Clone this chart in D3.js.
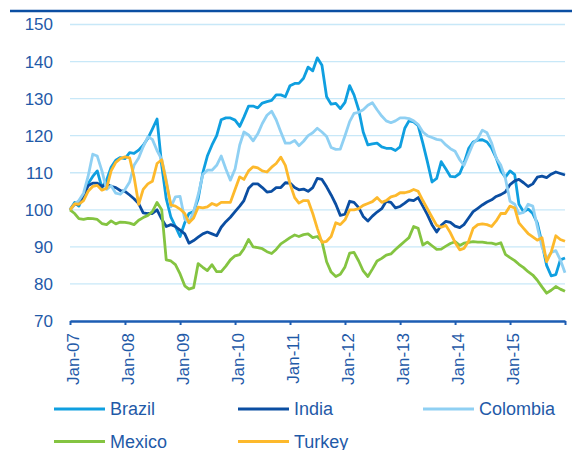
<!DOCTYPE html>
<html>
<head>
<meta charset="utf-8">
<script src="https://cdn.jsdelivr.net/npm/d3@7"></script>
<style>
  body { margin: 0; background: #fff; }
  svg { display: block; font-family: 'Liberation Sans', Arial, sans-serif; }
</style>
</head>
<body>
<svg id="chart"></svg>
<script>
// monthly index, Jan-07 = 100 (one row per year)
const firstMonth = new Date(2007, 0, 1);

const brazil = [
  100, 102, 101, 104, 107, 109, 110.5, 106, 108, 111.5, 113.4, 114.1,
  113.8, 115.4, 115.2, 116.1, 117.4, 119.3, 121.8, 124.5, 112, 103, 98, 95.5,
  92.8, 96.5, 99, 99.5, 103, 110, 114.5, 117.5, 120, 124.3, 124.8, 124.8,
  124.2, 122.5, 125, 128, 128, 127.5, 128.8, 129.2, 129.5, 131, 131, 130.5,
  133.5, 134.1, 134.1, 135.5, 138.5, 137.5, 141, 139, 130.5, 128.5, 128.7, 127.3,
  129, 133.5, 131, 127, 121, 117.5, 117.8, 118, 117, 116.6, 116.6, 116,
  117, 122, 124, 123.7, 122.7, 118, 113, 107.5, 108.5, 113, 111, 109,
  108.9, 109.8, 112.5, 116.5, 118.3, 118.8, 118.9, 118.3, 116.6, 114, 110.5, 108.8,
  110.5, 109.5, 101.5, 99.5, 100.2, 99, 96.5, 91, 85, 82.2, 82.5, 86.5,
  87
];

const india = [
  100, 101.5, 101.5, 103.5, 106.5, 107.2, 107.2, 106.3, 107, 106.3, 106, 105.2,
  105, 104, 103, 101.7, 99.2, 99, 99, 100, 97.5, 95.5, 96, 95.5,
  94.5, 93.5, 91, 91.7, 92.6, 93.5, 94, 93.5, 93, 95.3, 96.8, 98,
  99.5, 101, 102.5, 105.8, 107, 107, 106, 104.8, 105, 106, 106, 107.3,
  107.2, 106, 105.4, 105.6, 105, 106, 108.5, 108.2, 106.2, 104, 101.5, 98.5,
  98.8, 102.3, 102, 100.6, 98.2, 97, 98.3, 99.4, 100.3, 102.3, 102, 100.5,
  100.9, 101.8, 102.7, 102.5, 103.3, 101, 98.7, 96, 94, 95.8, 96.9, 96.6,
  95.6, 95.2, 96, 97.8, 99.5, 100.4, 101.3, 102.1, 102.7, 103.6, 104.1, 104.8,
  106.8, 107.8, 108.2, 107.3, 106.3, 107, 108.8, 109.1, 108.7, 109.6, 110.2, 109.8,
  109.4
];

const colombia = [
  100, 101.5, 102.5, 104.5, 109, 115, 114.5, 110.5, 105.5, 106.5, 104.5, 104.2,
  105.5, 107.5, 112, 114, 117, 119.7, 119, 116, 113.6, 108, 100.8, 103.5,
  103.6, 97.5, 96.5, 99.5, 104, 109.5, 110.7, 110.7, 112, 114.5, 111, 108,
  111, 117.5, 121, 120.2, 118.6, 120.5, 123.3, 125.5, 126.6, 124.3, 121, 118,
  118, 118.7, 117.3, 118.5, 120, 120.8, 122, 121, 119.8, 116.8, 116.3, 116.4,
  120, 123.8, 126, 126.3, 127, 128.2, 128.9, 127, 125.3, 124, 123.5, 124,
  124.8, 124.8, 124.6, 124, 123, 121, 120, 119.5, 119, 118.8, 117.5, 116.5,
  115.8, 113.5, 112, 115, 117.9, 119.2, 121.5, 120.8, 118, 114, 112, 108.5,
  102.3, 101.5, 99, 99.3, 101.5, 101, 95.5, 90, 86.7, 88.5, 89, 86.5,
  83
];

const mexico = [
  100, 99, 97.6, 97.4, 97.7, 97.6, 97.4, 96.3, 96, 97, 96.2, 96.7,
  96.6, 96.4, 96, 97.2, 97.9, 98.5, 99.5, 102, 100, 86.5, 86.2, 85.2,
  82.7, 79.5, 78.6, 79, 85.5, 84.5, 83.6, 85.2, 83.3, 83.3, 84.8, 86.5,
  87.6, 87.9, 89.5, 92, 90, 89.8, 89.5, 88.7, 88.2, 89.3, 90.8, 91.6,
  92.5, 93.2, 92.8, 93.3, 93.5, 92.5, 92.8, 91.5, 86, 83.2, 82, 82.6,
  84.6, 88.3, 88.5, 86.2, 83.5, 82, 84, 86.2, 86.9, 87.8, 88.1, 89.3,
  90.4, 91.5, 92.5, 95.5, 95, 90.5, 91.3, 90.3, 89.3, 89.4, 90.2, 90.9,
  91.4, 90.4, 91, 91.2, 91.4, 91.3, 91.3, 91.1, 91, 90.7, 91.1, 88,
  87.1, 86.3, 85.3, 84.4, 83.3, 82.4, 81, 79.2, 77.5, 78.3, 79.3, 78.6,
  78
];

const turkey = [
  100, 101.6, 101.5, 102.5, 105, 106.3, 106.6, 105.3, 105.8, 110.5, 112.8, 113.8,
  114.3, 114, 109, 101.5, 105.5, 107, 107.7, 112.5, 113.5, 107.5, 101.3, 101,
  100.2, 99, 96.5, 97.8, 100.7, 100.5, 100.8, 101.7, 101.2, 102, 102, 102,
  105.5, 108.9, 108.2, 110.5, 111.6, 111.3, 110.5, 110.2, 111.5, 112.5, 114.2, 112,
  107, 103.3, 101.8, 102.5, 102.5, 99, 95, 91.2, 91.5, 92.8, 96.5, 96,
  97.3, 100, 100, 100.3, 101.2, 101.7, 102.2, 103.3, 102, 102.5, 103.5, 103.8,
  104.6, 104.6, 104.9, 105.5, 105, 102.5, 100.3, 98, 95.8, 95.3, 95.8, 93.8,
  91.2, 89.2, 89.6, 91.5, 95, 96, 96.2, 96, 95.5, 97, 99, 99,
  101, 100.5, 96.5, 95, 93.6, 92.7, 91.8, 92.5, 86, 88.5, 93, 92,
  91.5
];

const seriesNames = ['Brazil', 'India', 'Colombia', 'Mexico', 'Turkey'];
const seriesValues = [brazil, india, colombia, mexico, turkey];
const seriesColors = ['#0f9fe0', '#0b4ea2', '#8fd0f3', '#84c441', '#fdb92c'];

const yTicks = [70, 80, 90, 100, 110, 120, 130, 140, 150];
const tickYears = [2007, 2008, 2009, 2010, 2011, 2012, 2013, 2014, 2015, 2016];

const width = 572, height = 450;
const textColor = '#1f5aa8';
const axisColor = '#1d5db3';

const svg = d3.select('#chart')
  .attr('width', width)
  .attr('height', height);

const months = d3.timeMonth.range(firstMonth, d3.timeMonth.offset(firstMonth, brazil.length));

const x = d3.scaleTime()
  .domain([new Date(2007, 0, 1), new Date(2016, 0, 1)])
  .range([70, 565]);

const y = d3.scaleLinear()
  .domain([70, 150])
  .range([321, 24.5]);

// rule on top
svg.append('line')
  .attr('x1', 10).attr('x2', width)
  .attr('y1', 11).attr('y2', 11)
  .attr('stroke', '#0b4ea2')
  .attr('stroke-width', 2.5);

// gridlines
svg.append('g')
  .selectAll('line')
  .data(yTicks.filter(d => d > 70))
  .enter()
  .append('line')
  .attr('x1', x.range()[0])
  .attr('x2', x.range()[1])
  .attr('y1', d => y(d))
  .attr('y2', d => y(d))
  .attr('stroke', '#c8e8f8')
  .attr('stroke-width', 1.3);

// y labels
svg.append('g')
  .selectAll('text')
  .data(yTicks)
  .enter()
  .append('text')
  .attr('x', 53)
  .attr('y', d => y(d))
  .attr('dy', '0.35em')
  .attr('text-anchor', 'end')
  .attr('font-size', 17)
  .attr('fill', textColor)
  .text(d => d);

// lines
const line = d3.line()
  .x((d, i) => x(months[i]))
  .y(d => y(d));

svg.append('g')
  .selectAll('path')
  .data(seriesValues)
  .enter()
  .append('path')
  .attr('d', d => line(d))
  .attr('fill', 'none')
  .attr('stroke', (d, i) => seriesColors[i])
  .attr('stroke-width', 2.8)
  .attr('stroke-linejoin', 'round');

// x axis
const fmt = d3.timeFormat('%b-%y');
const xAxis = d3.axisBottom(x)
  .tickValues(tickYears.map(yr => new Date(yr, 0, 1)))
  .tickSize(4)
  .tickSizeOuter(0)
  .tickFormat(d => d.getFullYear() < 2016 ? fmt(d) : '');

const gx = svg.append('g')
  .attr('transform', 'translate(0,' + y(70) + ')')
  .call(xAxis);

gx.select('.domain')
  .attr('stroke', axisColor)
  .attr('stroke-width', 2.5);
gx.selectAll('.tick line')
  .attr('stroke', axisColor)
  .attr('stroke-width', 2);
gx.selectAll('.tick text')
  .attr('transform', 'rotate(-90)')
  .attr('text-anchor', 'end')
  .attr('x', -12)
  .attr('y', 2.7)
  .attr('dy', '0.35em')
  .attr('font-size', 17)
  .attr('font-family', "'Liberation Sans', Arial, sans-serif")
  .attr('fill', textColor);

// legend
const legendPos = [
  { x: 54, y: 409 }, { x: 238, y: 409 }, { x: 423, y: 409 },
  { x: 54, y: 441.5 }, { x: 238, y: 441.5 }
];

const legend = svg.append('g')
  .selectAll('g')
  .data(seriesNames)
  .enter()
  .append('g')
  .attr('transform', (d, i) => 'translate(' + legendPos[i].x + ',' + legendPos[i].y + ')');

legend.append('line')
  .attr('x1', 0).attr('x2', 51)
  .attr('stroke', (d, i) => seriesColors[i])
  .attr('stroke-width', 2.8);

legend.append('text')
  .attr('x', 56)
  .attr('dy', '0.35em')
  .attr('font-size', 18)
  .attr('fill', textColor)
  .text(d => d);
</script>
</body>
</html>
